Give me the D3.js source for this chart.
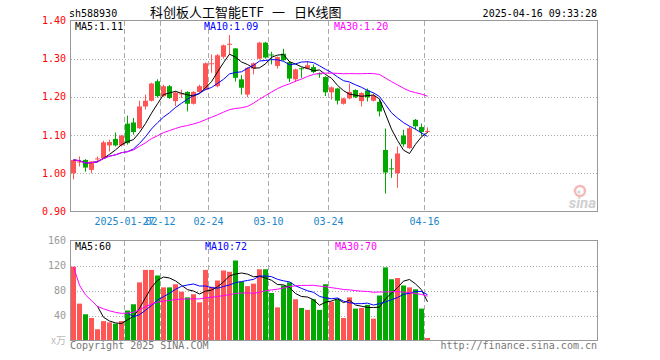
<!DOCTYPE html>
<html>
<head>
<meta charset="utf-8">
<script src="https://cdn.jsdelivr.net/npm/d3@7"></script>
<style>
  body { margin: 0; background: #fff; }
  svg { display: block; }
  .mono { font-family: "DejaVu Sans Mono", "Liberation Mono", monospace; font-size: 10px; }
</style>
</head>
<body>
<svg width="660" height="360"></svg>
<script>
// trading days shown (2025)
var dates = ["01-14","01-15","01-16","01-17","01-20","01-21","01-22","01-23","01-24","01-27",
  "02-05","02-06","02-07","02-10","02-11","02-12","02-13","02-14","02-17","02-18",
  "02-19","02-20","02-21","02-24","02-25","02-26","02-27","02-28","03-03","03-04",
  "03-05","03-06","03-07","03-10","03-11","03-12","03-13","03-14","03-17","03-18",
  "03-19","03-20","03-21","03-24","03-25","03-26","03-27","03-28","03-31","04-01",
  "04-02","04-03","04-07","04-08","04-09","04-10","04-11","04-14","04-15","04-16"];

var opens  = [1.000,1.030,1.035,1.009,1.037,1.039,1.073,1.090,1.073,1.130,
  1.133,1.118,1.175,1.190,1.241,1.202,1.228,1.189,1.208,1.213,
  1.182,1.213,1.219,1.287,1.228,1.305,1.338,1.327,1.246,1.206,
  1.274,1.300,1.342,1.311,1.281,1.313,1.291,1.246,1.275,1.274,
  1.278,1.262,1.252,1.212,1.222,1.182,1.196,1.218,1.189,1.217,
  1.190,1.187,1.061,1.013,1.000,1.099,1.066,1.140,1.121,1.110];
var highs  = [1.035,1.044,1.037,1.031,1.044,1.085,1.088,1.107,1.100,1.151,
  1.145,1.190,1.206,1.237,1.246,1.232,1.231,1.215,1.219,1.215,
  1.215,1.232,1.290,1.311,1.312,1.337,1.362,1.327,1.257,1.278,
  1.290,1.344,1.344,1.318,1.306,1.326,1.294,1.274,1.277,1.294,
  1.285,1.264,1.254,1.227,1.224,1.198,1.235,1.220,1.212,1.222,
  1.209,1.193,1.117,1.038,1.070,1.114,1.123,1.142,1.130,1.120];
var lows   = [0.984,1.018,1.004,1.000,1.031,1.037,1.057,1.070,1.070,1.075,
  1.101,1.116,1.167,1.188,1.198,1.200,1.195,1.176,1.197,1.162,
  1.180,1.210,1.217,1.263,1.225,1.300,1.311,1.240,1.206,1.199,
  1.259,1.298,1.300,1.285,1.274,1.294,1.239,1.239,1.250,1.272,
  1.262,1.250,1.202,1.193,1.180,1.180,1.194,1.197,1.175,1.188,
  1.188,1.149,0.947,0.988,0.962,1.070,1.064,1.114,1.097,1.105];
var closes = [1.035,1.031,1.015,1.031,1.039,1.081,1.082,1.073,1.099,1.079,
  1.108,1.175,1.190,1.235,1.202,1.228,1.197,1.211,1.209,1.182,
  1.213,1.228,1.288,1.288,1.309,1.335,1.339,1.250,1.224,1.276,
  1.288,1.342,1.303,1.310,1.304,1.296,1.248,1.272,1.274,1.283,
  1.265,1.259,1.212,1.225,1.190,1.196,1.213,1.199,1.210,1.199,
  1.203,1.162,1.002,1.011,1.052,1.076,1.118,1.123,1.108,1.111];
// volume, 万
var volumes = [118,59,42,36,18,31,29,27,31,48,
  58,93,113,113,104,85,85,90,78,69,
  74,61,113,86,96,112,110,128,94,87,
  91,114,114,76,53,88,93,66,52,49,
  66,49,90,62,66,36,69,51,52,57,
  35,72,117,98,100,88,85,82,51,4];

var priceTicks = [1.40,1.30,1.20,1.10,1.00,0.90];
var volTicks = [160,120,80,40];
var tickDates = ["2025-01-27","02-12","02-24","03-10","03-24","04-16"];
var tickIndex = [9,15,23,33,43,59];
var priceMaLabels = ["MA5:1.11","MA10:1.09","MA30:1.20"];
var volMaLabels = ["MA5:60","MA10:72","MA30:70"];
var titleParts = ["科创板人工智能ETF","一","日K线图"];

var svg = d3.select("svg");
var RED = "#ff5555", GREEN = "#00a800", GRID = "#aaa";
var maColors = ["#000","#0000ff","#ff00ff"];

var x = d3.scaleLinear().domain([0, 1]).range([71, 77]);   // 6px per day, bar left edge
var y = d3.scaleLinear().domain([0.9, 1.4]).range([211.5, 20.5]);
var yv = d3.scaleLinear().domain([0, 160]).range([340.5, 240.5]);

// moving average; partial=true averages what is available at the start
function ma(vals, n, partial) {
  return vals.map(function(v, i) {
    if (i < n - 1 && !partial) return null;
    return d3.mean(vals.slice(Math.max(0, i - n + 1), i + 1));
  });
}

// header
svg.append("text").attr("class", "mono").attr("x", 69).attr("y", 16.5).text("sh588930");
svg.append("g").selectAll("text").data(titleParts).enter().append("text")
  .attr("x", function(d, i) { return [150, 272, 294][i]; }).attr("y", 17)
  .style("font-family", "'Noto Sans CJK SC', sans-serif").style("font-size", "13px")
  .text(function(d) { return d; });
svg.append("text").attr("class", "mono").attr("x", 597).attr("y", 16.5)
  .attr("text-anchor", "end").text("2025-04-16 09:33:28");

function panel(top, bottom) {
  // vertical dashed date lines
  svg.append("g").selectAll("line").data(tickIndex).enter().append("line")
    .attr("x1", function(d) { return x(d) - 0.5; })
    .attr("x2", function(d) { return x(d) - 0.5; })
    .attr("y1", top).attr("y2", bottom)
    .style("stroke", GRID).style("stroke-dasharray", "5,3");
}

// ---- price panel
svg.append("g").selectAll("line").data(priceTicks.slice(1, -1)).enter().append("line")
  .attr("x1", 71).attr("x2", 598)
  .attr("y1", function(d) { return Math.round(y(d)) + 0.5; })
  .attr("y2", function(d) { return Math.round(y(d)) + 0.5; })
  .style("stroke", GRID).style("stroke-dasharray", "1,2");
panel(21, 211);
svg.append("rect").attr("x", 70.5).attr("y", 20.5).attr("width", 527).attr("height", 191)
  .style("fill", "none").style("stroke", "#999");

svg.append("g").selectAll("text").data(priceTicks).enter().append("text")
  .attr("class", "mono").attr("x", 66).attr("y", function(d) { return y(d) + 3.5; })
  .attr("text-anchor", "end").style("fill", "#f00")
  .text(function(d) { return d.toFixed(2); });

var candles = svg.append("g").selectAll("g").data(closes).enter().append("g");
candles.append("line")
  .attr("x1", function(d, i) { return x(i) + 2.5; })
  .attr("x2", function(d, i) { return x(i) + 2.5; })
  .attr("y1", function(d, i) { return y(highs[i]); })
  .attr("y2", function(d, i) { return y(lows[i]); })
  .style("stroke", function(d, i) { return d >= opens[i] ? RED : GREEN; });
candles.append("rect")
  .attr("x", function(d, i) { return x(i); })
  .attr("width", 5)
  .attr("y", function(d, i) { return y(Math.max(d, opens[i])); })
  .attr("height", function(d, i) { return Math.max(1, Math.abs(y(d) - y(opens[i]))); })
  .style("fill", function(d, i) { return d >= opens[i] ? RED : GREEN; });

var priceLine = d3.line()
  .defined(function(d) { return d != null; })
  .x(function(d, i) { return x(i) + 2.5; })
  .y(function(d) { return y(d); });
[5, 10, 30].forEach(function(n, k) {
  svg.append("path").datum(ma(closes, n, true)).attr("d", priceLine)
    .style("fill", "none").style("stroke", maColors[k]).style("stroke-width", 1);
});

svg.append("g").selectAll("text").data(priceMaLabels).enter().append("text")
  .attr("class", "mono").attr("x", function(d, i) { return [75, 204, 334][i]; }).attr("y", 30)
  .style("fill", function(d, i) { return maColors[i]; })
  .text(function(d) { return d; });

// date labels (the first two overlap in the original too)
svg.append("g").selectAll("text").data(tickDates).enter().append("text")
  .attr("class", "mono").attr("x", function(d, i) { return x(tickIndex[i]) - 0.5; }).attr("y", 225)
  .attr("text-anchor", "middle").style("fill", "#1a86cc")
  .text(function(d) { return d; });

// sina watermark
var wm = svg.append("g").style("opacity", 0.55);
wm.append("circle").attr("cx", 580).attr("cy", 191).attr("r", 5)
  .style("fill", "none").style("stroke", "#f08080").style("stroke-width", 2.5);
wm.append("circle").attr("cx", 579).attr("cy", 192).attr("r", 1.5).style("fill", "#aaa");
wm.append("text").attr("x", 596).attr("y", 208).attr("text-anchor", "end")
  .style("font-family", "Roboto, sans-serif").style("font-weight", "bold")
  .style("font-style", "italic").style("font-size", "15px").style("fill", "#aaa")
  .text("sina");

// ---- volume panel
svg.append("g").selectAll("line").data(volTicks.slice(1)).enter().append("line")
  .attr("x1", 71).attr("x2", 598)
  .attr("y1", function(d) { return Math.round(yv(d)) + 0.5; })
  .attr("y2", function(d) { return Math.round(yv(d)) + 0.5; })
  .style("stroke", GRID).style("stroke-dasharray", "1,2");
panel(241, 340);

svg.append("g").selectAll("rect").data(volumes).enter().append("rect")
  .attr("x", function(d, i) { return x(i); })
  .attr("width", 5)
  .attr("y", function(d) { return yv(d); })
  .attr("height", function(d) { return yv(0) - yv(d); })
  .style("fill", function(d, i) { return closes[i] >= opens[i] ? RED : GREEN; });

svg.append("rect").attr("x", 70.5).attr("y", 240.5).attr("width", 527).attr("height", 100)
  .style("fill", "none").style("stroke", "#999");

var volLine = d3.line()
  .defined(function(d) { return d != null; })
  .x(function(d, i) { return x(i) + 2.5; })
  .y(function(d) { return yv(d); });
[5, 10, 30].forEach(function(n, k) {
  svg.append("path").datum(ma(volumes, n, n == 30)).attr("d", volLine)
    .style("fill", "none").style("stroke", maColors[k]).style("stroke-width", 1);
});

svg.append("g").selectAll("text").data(volTicks).enter().append("text")
  .attr("class", "mono").attr("x", 66).attr("y", function(d) { return yv(d) + 3.5; })
  .attr("text-anchor", "end").style("fill", "#999")
  .text(function(d) { return d; });
svg.append("text").attr("x", 66).attr("y", 344).attr("text-anchor", "end")
  .style("font-family", "'Noto Sans CJK SC', sans-serif").style("font-size", "10px")
  .style("fill", "#bbb").text("x万");

svg.append("g").selectAll("text").data(volMaLabels).enter().append("text")
  .attr("class", "mono").attr("x", function(d, i) { return [75, 205, 335][i]; }).attr("y", 250)
  .style("fill", function(d, i) { return maColors[i]; })
  .text(function(d) { return d; });

// footer
svg.append("text").attr("class", "mono").attr("x", 70).attr("y", 349)
  .style("fill", "#777").text("Copyright 2025 SINA.COM");
svg.append("text").attr("class", "mono").attr("x", 597).attr("y", 349)
  .attr("text-anchor", "end").style("fill", "#777").text("http://finance.sina.com.cn");
</script>
</body>
</html>
